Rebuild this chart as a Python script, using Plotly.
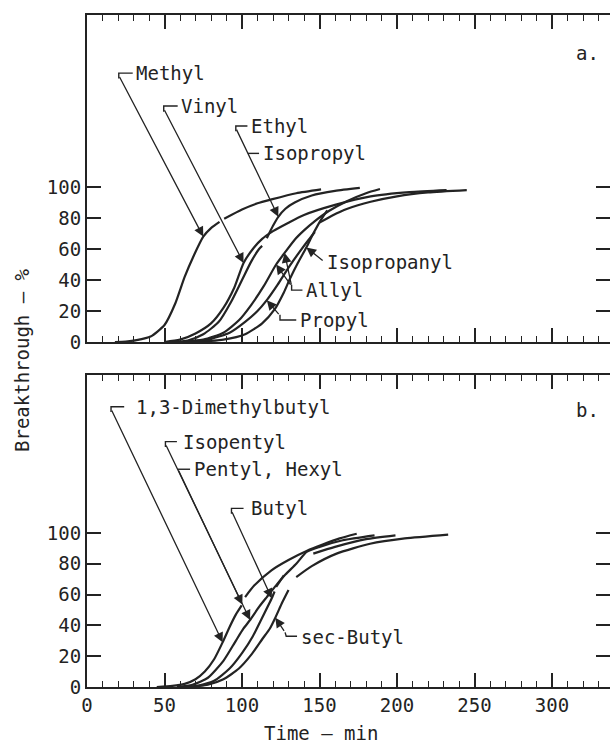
import plotly.graph_objects as go

# ---------------- panel a: breakthrough curves (time in min, breakthrough in %) ----------------
# None marks a break in a drawn curve where another curve passes through
methyl_t = [18, 25, 32, 41, 50, 57, 63, 69, 75, 80, 85.5, None, 88.5, 100, 110, 119, 135, 151]
methyl_p = [0, 0.3, 1.2, 3.5, 11, 25, 42, 56, 68, 73.5, 77.5, None, 79.5, 85.5, 89.5, 92, 96, 98.5]

vinyl_t = [50, 60, 70, 80, 88, 95, 101, 107, 113, 120, 130, 140, 160, 183, 208, 232]
vinyl_p = [0, 1.5, 5.5, 12, 22, 35, 51, 60, 66.5, 71.5, 77, 82, 88.5, 94, 96.7, 98]

ethyl_t = [55, 65, 75, 85, 93, 100, 106, 111, 113, None, 116, 120, 123.4, 128, 134, 145, 160, 176]
ethyl_p = [0, 1, 5, 13, 26, 40, 52, 60, 62, None, 67, 75, 80.8, 86, 90, 94.5, 97.5, 99.4]

allyl_t = [60, 75, 88, 98, 106, 114, 122, 127.5, 134, 140, 147, 156, 168, 180, 189]
allyl_p = [0, 1.5, 6, 14, 24, 36, 50, 57.5, 66, 72, 78, 84.5, 91, 96, 98.7]

propyl_t = [62, 78, 92, 102, 110, 116, 123, 130, 137, 143, 147, None, 150, 158, 168, 183, 200, 220, 245]
propyl_p = [0, 1.5, 6, 13, 20, 27, 37, 48, 58, 66, 71, None, 77, 81.5, 86, 90.5, 94, 96.5, 98]

isopropanyl_t = [70, 88, 102, 113, 121, 127, 131, 136, 141.5, 146, 151, 155]
isopropanyl_p = [0, 1.5, 5, 12, 21, 32, 41, 51, 61, 70, 79, 85]

# ---------------- panel b ----------------
dimethylbutyl_t = [45, 55, 63, 70, 76, 82, 87.5, 92, 96, 99.8, None, 102, 108, 119, 130, 142, 152, 163, 174]
dimethylbutyl_p = [0, 0.7, 2, 5, 10, 18, 29, 39, 47, 53, None, 58.4, 66, 75.8, 82.5, 88.5, 92.5, 96.5, 99.5]

isopentyl_t = [58, 68, 78, 88, 96, 101, 105.2, 111, 116, 122, 128, 135, 141.7, 150, 165, 185.5]
isopentyl_p = [0, 1.5, 6, 17, 30, 38, 43.5, 52, 58.4, 66, 73, 80, 87.7, 91, 95.3, 98.5]

butyl_t = [62, 72, 82, 92, 100, 107, 113, 119.2, 121, None, 122, 127, None, 146, 160, 180, 199]
butyl_p = [0, 1, 4, 12, 22, 33, 45, 57.6, 62, None, 65, 72.5, None, 86.6, 91, 96, 98.5]

secbutyl_t = [66, 78, 88, 98, 106, 113, 118, 121.5, 126, 130, None, 135, 145, 161, 182.6, 205, 233]
secbutyl_p = [0, 1.5, 5, 12, 21, 31, 38, 45, 55, 63, None, 71.4, 78.5, 86.6, 93, 96.5, 99]

y_ticks = [0, 20, 40, 60, 80, 100]
x_ticks = [0, 50, 100, 150, 200, 250, 300]

# labels: text, anchor point of the text, hook polyline, leader start, arrow tips
labels_a = [
    dict(text="Methyl", at=(30.5, 173.5), hook=[(29.5, 173.5), (20.5, 173.5), (20.5, 170)],
         start=(20.5, 172), tips=[(75, 68)]),
    dict(text="Vinyl", at=(59.5, 152.3), hook=[(58.5, 152.3), (49.5, 152.3), (49.5, 148.5)],
         start=(49.5, 150.5), tips=[(101, 51)]),
    dict(text="Ethyl", at=(104.5, 139.4), hook=[(103.5, 139.4), (96, 139.4), (96, 136)],
         start=(96, 138), tips=[(123.4, 80.8)]),
    dict(text="Isopropyl", at=(112, 121.7), hook=[(103.8, 121.7), (111, 121.7)],
         start=None, tips=[]),
    dict(text="Isopropanyl", at=(153.5, 51.8), hook=[],
         start=(153, 51.8), tips=[(141.5, 61)]),
    dict(text="Allyl", at=(140, 33.5), hook=[(139, 33.5), (132, 33.5), (132, 37)],
         start=(132, 36), tips=[(122, 50), (127.5, 57.5)]),
    dict(text="Propyl", at=(136, 14.2), hook=[(135, 14.2), (124.5, 14.2), (124.5, 17.5)],
         start=(124.5, 17), tips=[(116, 27)]),
]
labels_b = [
    dict(text="1,3-Dimethylbutyl", at=(30.4, 182), hook=[(24, 182), (15.5, 182), (15.5, 178.5)],
         start=(15.5, 180.5), tips=[(87.5, 29)]),
    dict(text="Isopentyl", at=(60.6, 159.3), hook=[(58, 159.3), (50.6, 159.3), (50.6, 155.8)],
         start=(50.6, 157.8), tips=[(105.2, 43.5)]),
    dict(text="Pentyl, Hexyl", at=(68, 141.4), hook=[(58.7, 141.4), (66.5, 141.4)],
         start=(58.7, 141.4), tips=[(100.2, 53.5)]),
    dict(text="Butyl", at=(104.5, 116), hook=[(101, 116), (93.2, 116), (93.2, 112.5)],
         start=(93.2, 114.5), tips=[(119.2, 57.6)]),
    dict(text="sec-Butyl", at=(137, 32.5), hook=[(135.5, 33), (128.5, 33), (127.8, 35.5)],
         start=(127.8, 35.5), tips=[(121.5, 45)]),
]

INK = "#232323"
FONT = "DejaVu Sans Mono"
FS = 19
X_RANGE = [0, 337.4]
Y_RANGE_A = [0, 211]
Y_RANGE_B = [0, 202.6]

fig = go.Figure()


def add_curve(t, p, xa, ya):
    fig.add_trace(go.Scatter(
        x=t, y=p, mode="lines", xaxis=xa, yaxis=ya, connectgaps=False,
        line=dict(color=INK, width=2.2, shape="spline", smoothing=0.6),
        hoverinfo="skip", showlegend=False))


for t, p in [(methyl_t, methyl_p), (vinyl_t, vinyl_p), (ethyl_t, ethyl_p),
             (allyl_t, allyl_p), (propyl_t, propyl_p), (isopropanyl_t, isopropanyl_p)]:
    add_curve(t, p, "x", "y")

for t, p in [(dimethylbutyl_t, dimethylbutyl_p), (isopentyl_t, isopentyl_p),
             (butyl_t, butyl_p), (secbutyl_t, secbutyl_p)]:
    add_curve(t, p, "x2", "y2")

# empty traces so the right-hand tick axes are drawn
for ya in ["y3", "y4"]:
    fig.add_trace(go.Scatter(x=[None], y=[None], xaxis="x" if ya == "y3" else "x2", yaxis=ya,
                             mode="lines", hoverinfo="skip", showlegend=False))

annotations = []


def add_labels(specs, xa, ya):
    for s in specs:
        annotations.append(dict(
            x=s["at"][0], y=s["at"][1], xref=xa, yref=ya, text=s["text"], showarrow=False,
            xanchor="left", yanchor="middle", font=dict(family=FONT, size=FS, color=INK)))
        if s["hook"]:
            hx = [q[0] for q in s["hook"]]
            hy = [q[1] for q in s["hook"]]
            fig.add_trace(go.Scatter(x=hx, y=hy, mode="lines", xaxis=xa, yaxis=ya,
                                     line=dict(color=INK, width=1.4),
                                     hoverinfo="skip", showlegend=False))
        for tip in s["tips"]:
            annotations.append(dict(
                x=tip[0], y=tip[1], ax=s["start"][0], ay=s["start"][1],
                xref=xa, yref=ya, axref=xa, ayref=ya, text="", showarrow=True,
                arrowhead=2, arrowsize=1.5, arrowwidth=1.3, arrowcolor=INK, standoff=0))


add_labels(labels_a, "x", "y")
add_labels(labels_b, "x2", "y2")

annotations += [
    dict(x=323, y=186.5, xref="x", yref="y", text="a.", showarrow=False,
         font=dict(family=FONT, size=FS, color=INK)),
    dict(x=323, y=180, xref="x2", yref="y2", text="b.", showarrow=False,
         font=dict(family=FONT, size=FS, color=INK)),
    dict(x=-0.1243, y=0.4866, xref="paper", yref="paper", text="Breakthrough — %",
         textangle=-90, showarrow=False, xanchor="center", yanchor="middle",
         font=dict(family=FONT, size=FS, color=INK)),
    dict(x=0.447, y=-0.0685, xref="paper", yref="paper", text="Time — min",
         showarrow=False, xanchor="center", yanchor="middle",
         font=dict(family=FONT, size=FS, color=INK)),
]

x_common = dict(
    range=X_RANGE, showline=True, linecolor=INK, linewidth=2, mirror="ticks",
    ticks="inside", ticklen=14, tickwidth=1.6, tickcolor=INK,
    tickvals=x_ticks, showgrid=False, zeroline=False,
    minor=dict(dtick=10, tick0=0, ticks="inside", ticklen=6, tickwidth=1.4,
               tickcolor=INK, showgrid=False),
    tickfont=dict(family=FONT, size=FS, color=INK),
)
y_common = dict(
    ticks="inside", ticklen=14, tickwidth=1.8, tickcolor=INK,
    tickvals=y_ticks, showgrid=False, zeroline=False,
    tickfont=dict(family=FONT, size=FS, color=INK),
)

fig.update_layout(
    width=610, height=745,
    margin=dict(l=87, r=0, t=15, b=58),
    paper_bgcolor="white", plot_bgcolor="white",
    showlegend=False,
    xaxis=dict(**x_common, domain=[0, 1], anchor="y", showticklabels=False),
    yaxis=dict(**y_common, domain=[0.5134, 1], range=Y_RANGE_A, anchor="x",
               showline=True, linecolor=INK, linewidth=2),
    xaxis2=dict(**x_common, domain=[0, 1], anchor="y2", showticklabels=True),
    yaxis2=dict(**y_common, domain=[0, 0.4643], range=Y_RANGE_B, anchor="x2",
                showline=True, linecolor=INK, linewidth=2),
    # right-hand ticks without a border line
    yaxis3=dict(**y_common, overlaying="y", side="right", range=Y_RANGE_A, anchor="x",
                showline=False, showticklabels=False),
    yaxis4=dict(**y_common, overlaying="y2", side="right", range=Y_RANGE_B, anchor="x2",
                showline=False, showticklabels=False),
    annotations=annotations,
)

fig.write_html("out.html")
